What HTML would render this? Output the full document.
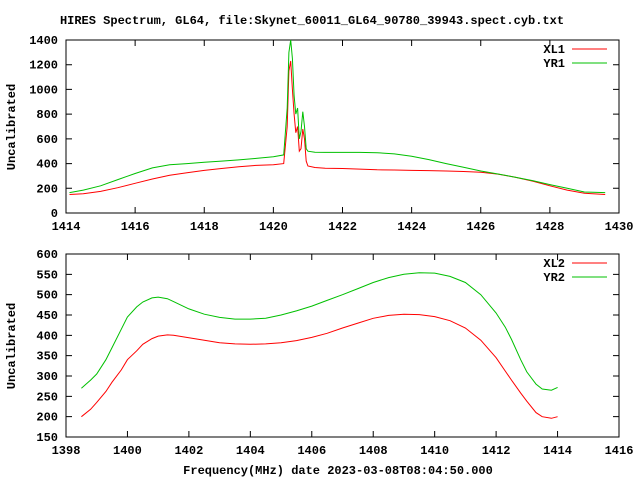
<!DOCTYPE html>
<html><head><meta charset="utf-8"><style>
body{margin:0;background:#fff}
svg text{font-family:"Liberation Mono",monospace;font-weight:bold;font-size:12px;fill:#000}
</style></head><body>
<svg id="c" width="640" height="480" xmlns="http://www.w3.org/2000/svg">
<text x="312" y="24" text-anchor="middle">HIRES Spectrum, GL64, file:Skynet_60011_GL64_90780_39943.spect.cyb.txt</text>
<text x="338" y="474" text-anchor="middle">Frequency(MHz) date 2023-03-08T08:04:50.000</text>
<text transform="translate(15,127) rotate(-90)" text-anchor="middle">Uncalibrated</text>
<text transform="translate(15,346) rotate(-90)" text-anchor="middle">Uncalibrated</text>
</svg>
<script>
// Top panel data
const topFreq = [1414.1,1414.5,1415,1415.5,1416,1416.5,1417,1417.5,1418,1418.5,1419,1419.5,1420,1420.3,1420.4,1420.45,1420.5,1420.55,1420.6,1420.65,1420.7,1420.75,1420.8,1420.85,1420.9,1420.95,1421,1421.2,1421.5,1422,1422.5,1423,1423.5,1424,1424.5,1425,1425.5,1426,1426.5,1427,1427.5,1428,1428.5,1429,1429.6];
const xl1 = [150,155,175,205,240,275,305,325,345,360,375,385,390,400,700,1150,1230,1000,800,650,700,500,520,680,600,420,380,368,362,360,355,350,348,345,343,340,336,330,315,290,258,220,185,160,150];
const yr1 = [165,185,220,270,320,365,390,400,410,420,430,442,455,470,850,1300,1400,1250,950,800,850,600,660,820,700,520,500,492,490,490,490,488,478,460,432,400,370,340,316,290,262,230,200,170,165];
// Bottom panel data
const botFreq = [1398.5,1398.8,1399,1399.3,1399.5,1399.8,1400,1400.3,1400.5,1400.8,1401,1401.3,1401.5,1402,1402.5,1403,1403.5,1404,1404.5,1405,1405.5,1406,1406.5,1407,1407.5,1408,1408.5,1409,1409.5,1410,1410.5,1411,1411.5,1412,1412.3,1412.5,1412.8,1413,1413.3,1413.5,1413.8,1414];
const xl2 = [200,218,235,262,285,315,340,362,378,392,398,401,400,394,388,382,379,378,379,382,387,395,405,418,430,442,449,452,451,446,436,418,388,345,312,290,258,238,210,200,196,200];
const yr2 = [270,290,305,340,370,415,445,470,482,492,494,490,483,465,452,444,440,440,442,450,460,472,486,500,515,530,542,550,554,553,545,530,500,455,420,390,340,310,280,268,265,272];
const topXTicks=[1414,1416,1418,1420,1422,1424,1426,1428,1430];
const topYTicks=[0,200,400,600,800,1000,1200,1400];
const botXTicks=[1398,1400,1402,1404,1406,1408,1410,1412,1414,1416];
const botYTicks=[150,200,250,300,350,400,450,500,550,600];

const svg=document.getElementById('c');
const NS='http://www.w3.org/2000/svg';
function mk(t,a){const e=document.createElementNS(NS,t);for(const k in a)e.setAttribute(k,a[k]);svg.appendChild(e);return e;}
function panel(p){
  const L=66,R=619,T=p.T,B=p.B;
  const sx=v=>L+(v-p.x0)/(p.x1-p.x0)*(R-L);
  const sy=v=>B-(v-p.y0)/(p.y1-p.y0)*(B-T);
  const fr=mk('rect',{x:L,y:T,width:R-L,height:B-T,fill:'none',stroke:'#000','stroke-width':1});
  
  
  p.xt.forEach(v=>{const x=sx(v);
    const l=mk('path',{d:`M${x},${B}v-6M${x},${T}v6`,stroke:'#000'});
    
    
    const t=mk('text',{x:x,y:B+17,'text-anchor':'middle'});t.textContent=v;
    
    });
  p.yt.forEach(v=>{const y=sy(v);
    const l=mk('path',{d:`M${L},${y}h6M${R},${y}h-6`,stroke:'#000'});
    
    
    const t=mk('text',{x:L-8,y:y+4,'text-anchor':'end'});t.textContent=v;
    
    });
  p.s.forEach((s,i)=>{
    const d=p.f.map((f,j)=>(j?'L':'M')+sx(f).toFixed(1)+','+sy(s.v[j]).toFixed(1)).join('');
    const pl=mk('path',{d:d,fill:'none',stroke:s.c,'stroke-width':1});
    
    
    const ly=T+9+i*14;
    const lt=mk('text',{x:565,y:ly+4,'text-anchor':'end'});lt.textContent=s.name;
    
    
    const ll=mk('path',{d:`M572,${ly}H607`,stroke:s.c});
    
    
  });
}
panel({n:'top',T:40,B:213,x0:1414,x1:1430,y0:0,y1:1400,xt:topXTicks,yt:topYTicks,f:topFreq,
  s:[{name:'XL1',c:'#ff0000',v:xl1},{name:'YR1',c:'#00c000',v:yr1}]});
panel({n:'bottom',T:254,B:437,x0:1398,x1:1416,y0:150,y1:600,xt:botXTicks,yt:botYTicks,f:botFreq,
  s:[{name:'XL2',c:'#ff0000',v:xl2},{name:'YR2',c:'#00c000',v:yr2}]});
</script>
</body></html>
